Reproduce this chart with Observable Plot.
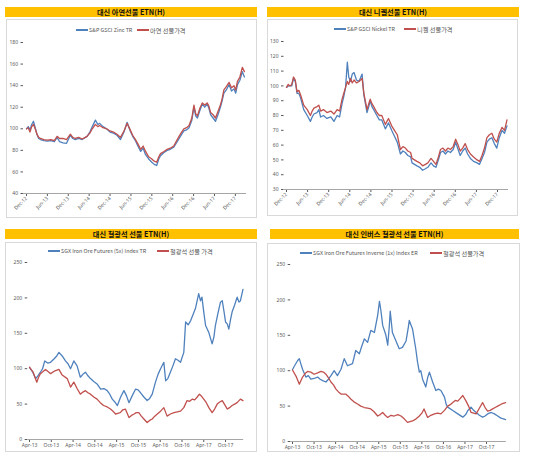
<!DOCTYPE html>
<html><head><meta charset="utf-8">
<script src="https://cdn.jsdelivr.net/npm/d3@7"></script>
<script src="https://cdn.jsdelivr.net/npm/@observablehq/plot@0.6"></script>
<style>
body{margin:0;background:#fff;font-family:"Noto Sans CJK KR","Noto Sans",sans-serif;}
#root{position:relative;width:535px;height:468px;overflow:hidden;background:#fff;}
.title{position:absolute;background:#FFC000;font-weight:bold;font-size:7.2px;line-height:10px;text-align:center;color:#111;white-space:nowrap;}
.box{position:absolute;border:1px solid #d9d9d9;box-sizing:border-box;}
.leg{position:absolute;font-size:5.4px;color:#555;white-space:nowrap;display:flex;align-items:center;height:8px;}
.leg .ko{font-size:6.2px;}
.sw{display:inline-block;width:12px;height:1.3px;margin-right:1px;}
.plot{position:absolute;}
</style>
</head><body><div id="root"></div>
<script>
// ---------- Data ----------
// Panel 1: zinc (months since Dec-2012)
const zincT = [0,0.5,1,1.5,2,2.5,3,3.5,4,5,6,7,8,8.8,9.5,10.5,11.5,12.6,13.3,14,15,16,17.4,18.2,18.9,19.8,20.5,21,22,23,24,25,26,27,28,28.9,29.8,30.5,31.3,32,32.8,33.5,34.2,35.1,36,36.7,37.4,38,38.5,39.5,40.4,41.3,42.3,43.3,44.2,45.2,46,46.7,47.5,48.1,48.6,49.1,49.8,50.5,51.2,51.9,52.4,52.9,53.6,54.3,55,55.7,56.2,56.7,57.4,58.2,58.9,59.6,60.1,60.6,61.3,62,62.6];
const zincIndex = [100,102,99,104,107,101,95,91,90,89,88.5,89,88,92,88,87,86.5,94,91,90,91,90,93,97,102,108,104,105,102,100,97,96,94,90,97,106,98,93,89,84,79,82,76,72,69,67,66,72,75,78,80,81,83,88,93,98,99,101,108,120,112,110,117,123,120,123,119,113,110,107,113,120,126,133,136,141,135,137,133,141,145,153,148];
const zincPrice = [100,101,97,102,104,100,95,92,91,90,89.5,90,89,93,91,91,90,95,92,91,92,90.5,93,96,100,104,102,103,101,100,98,97,95,92,98,105,99,94,90,86,81,84,79,74,72,70,69,74,77,79,81,82,84,90,95,100,101,103,110,122,114,112,119,124,122,124,121,115,113,110,116,122,128,136,139,143,138,140,136,144,148,157,153];
const zincTicks = [0,6,12,18,24,30,36,42,48,54,60];
const zincLabels = ["Dec-12","Jun-13","Dec-13","Jun-14","Dec-14","Jun-15","Dec-15","Jun-16","Dec-16","Jun-17","Dec-17"];

// Panel 2: nickel (months since Dec-2012)
const nickelT = [0,0.5,1,1.5,2,2.5,3,3.5,4,4.9,5.9,6.8,7.3,7.8,8.7,9.2,9.7,10.5,11.5,12.6,13.5,14.4,15.1,15.8,16.3,16.8,17.3,17.7,18.2,18.7,19.2,19.9,20.6,21.5,22,22.9,23.4,23.8,24.3,24.8,25.7,26.4,27.1,28.1,29,29.9,30.7,31.5,32.4,33.1,33.8,34.5,35.3,35.7,36.4,37.1,37.9,38.7,39.5,40.2,41.1,41.8,42.5,43.2,43.8,44.5,45.2,45.9,46.6,47.4,48.1,48.8,49.4,50.1,50.8,51.5,52.3,53.2,54.2,54.9,55.6,56.3,57,57.7,58.4,59.1,59.8,60.5,61.3,62,62.7];
const nickelIndex = [99,100,100,100,105,103,95,95,92,84,80,76,79,81,82,84,79,80,78,79,76,80,79,88,93,99,116,106,103,108,109,104,103,108,94,82,86,90,86,84,80,77,77,71,75,70,66,62,54,56,55,53,52,48,47,46,45,43,44,45,48,46,45,50,55,56,54,56,55,57,62,57,53,56,58,54,51,49,48,47,51,55,62,64,65,61,58,65,70,68,73];
const nickelPrice = [99,101,100,101,106,104,96,97,94,87,84,80,83,85,86,87,83,84,82,83,81,84,83,91,95,99,103,101,105,102,104,102,103,105,95,84,88,91,88,86,82,80,80,74,78,73,70,67,57,59,58,56,55,51,50,49,48,46,47,48,51,49,47,52,57,58,56,58,57,59,64,60,56,58,61,57,54,52,50,49,53,58,65,67,68,64,62,68,72,70,77];
const nickelTicks = [0,6,12,18,24,30,36,42,48,54,60];
const nickelLabels = ["Dec-12","Jun-13","Dec-13","Jun-14","Dec-14","Jun-15","Dec-15","Jun-16","Dec-16","Jun-17","Dec-17"];

// Panel 3: iron ore (months since Apr-2013)
const ironIndexT = [0,0.8,1.7,2.3,3,3.6,4.2,5,5.8,6.8,7.5,8.1,9,9.9,10.6,11.3,12.2,13.1,14,14.7,15.4,16.1,16.8,17.7,18.6,19.6,20.5,21.4,22.1,22.8,23.5,24.2,25.1,26,26.7,27.4,28.3,29.2,29.9,30.6,31.5,32.4,33.1,33.8,34.7,35.4,36.1,37,37.5,38.1,38.8,39.5,40.2,40.9,41.6,42.5,43,43.7,44.4,45,45.7,46.6,47.1,47.5,48,48.5,49.4,50.3,50.8,51.2,51.9,52.6,53.1,53.6,54,54.5,54.9,55.4,55.8,56.5,57.2,57.7,58.1,58.8];
const ironIndex = [102,96,86,90,95,100,111,108,109,114,118,123,118,111,107,100,111,104,88,92,95,90,86,82,78.5,71,72,69,64,57,53,48,60,69,62,52,62,71,70,66,60,55,58,64,81,92,100,109,83,86,95,104,114,112,109,123,166,162,168,176,185,206,196,201,180,161,151,135,145,161,178,194,196,180,166,163,156,170,180,190,201,194,196,212];
const ironPriceT = [0,1,2,2.5,3,4.4,5.1,5.8,7,8.1,9,10.4,11.3,12.2,13.1,14,14.7,15.4,16.1,16.8,17.7,18.6,19.5,20.4,21.4,22.3,23,23.7,24.3,25,25.7,26.4,27.4,28.1,28.8,29.4,30.1,30.8,31.5,32.4,33.1,33.8,34.5,35.2,36.1,37,37.9,38.8,39.8,40.7,41.6,42.5,43.4,44.1,44.8,45.5,46.2,46.8,47.4,48,48.7,49.4,50.3,51,51.7,52.4,53.1,53.8,54.5,55.1,55.8,56.5,57.2,58.1,58.8];
const ironPrice = [102,95,81,88,93,99,96,93,97,99,91,86,74,81,72,64,67,69,66,64,60,57,52,48,46,43,40,36,37,38,42,43,31,34,36,38,38,33,29,24,27,29,33,36,40,45,33,36,38,39,40,45,55,54,57,56,60,64,61,57,52,45,38,43,50,53,55,49,43,45,48,50,52,57,55];
const ironTicks = [0,6,12,18,24,30,36,42,48,54];
const ironLabels = ["Apr-13","Oct-13","Apr-14","Oct-14","Apr-15","Oct-15","Apr-16","Oct-16","Apr-17","Oct-17"];

// Panel 4: inverse iron ore (months since Apr-2013)
const invIndexT = [0,0.7,1.4,1.9,2.3,2.8,3.7,4.4,5.1,6,7,7.7,8.4,9.3,10,10.7,11.6,12.5,13.5,14.4,15.3,16.7,17.6,18.6,19.3,20,20.9,21.8,22.8,23.7,24.2,24.6,25.1,26,26.5,26.9,27.2,27.8,28.8,29.7,30.6,31.6,32.2,32.5,33.4,34.3,34.8,35.3,35.7,36.2,37.1,37.6,38.1,39,39.9,40.6,41.3,42.3,42.8,43.2,44.6,46,47.4,48.2,48.8,49.7,50.4,51.1,52,52.9,53.6,54.3,55.3,56.2,57.1,58,58.7,59.3];
const invIndex = [101.7,108,114,117,110,102,91,93,88,89,91,88,86,84,88,93,100,93,102,117,107,110,128.5,124,135,145,140,157,154,178,198,185,164,150,136,160,184,154,142,131,133,142,160,171,159,131,112,98,100,88,77,90,98,84,72,74,72,62.6,52,48.5,43.8,39,34.4,38,43.8,48.5,44,41,37,34.4,36,39,41,39,36,33,32,31];
const invPriceT = [0,1,1.9,2.8,3.5,4.2,5.1,6,7,7.9,8.6,9.3,10,10.7,11.4,12.1,12.8,13.5,14.8,15.5,16.2,17.1,18.1,19,20,20.9,21.8,22.7,23.7,24.4,25.1,25.8,26.5,27.4,28.3,29.3,30.2,31.1,32,32.7,33.4,34.4,35.3,36,36.6,37.6,38.5,39.5,40.4,41.3,42.3,43.2,43.9,44.6,45.3,46,46.7,47.4,48.3,49,49.7,50.4,51.1,52,52.9,53.6,54.3,55,55.7,56.4,57.1,58.2,59.3];
const invPrice = [101,92,81,91,96,99,98,95,97,99,98,95,90,84,80,74,70,67,67,64,60,56,53,50,48,47,46,42,36,38,41,37,34,37,36,38,36,32,27,28,29,32,36,40,46,34,37,39,40,39,44,50,52,55,58,57,61,65,57,50,41,40,39,47,55,48,43,44,46,48,50,53,55];
const invTicks = [0,6,12,18,24,30,36,42,48,54];
const invLabels = ["Apr-13","Oct-13","Apr-14","Oct-14","Apr-15","Oct-15","Apr-16","Oct-16","Apr-17","Oct-17"];

const BLUE = "#4F81BD", RED = "#C0504D";
const zip = (t, v) => t.map((d, i) => ({t: d, v: v[i]}));

const panels = [
  {title:"대신 아연선물 ETN(H)", bar:[5,7,252,10], box:[6,19,251,199],
   m:[23,11,25,17], xd:[-0.86,63.2], yd:[40,180], yt:[40,60,80,100,120,140,160,180],
   xt:zincTicks, xl:zincLabels, rot:-45,
   blue:zip(zincT,zincIndex), red:zip(zincT,zincPrice),
   leg:[[76,"S&P GSCI Zinc TR",BLUE,false],[137,"아연 선물가격",RED,true]], legY:26},
  {title:"대신 니켈선물 ETN(H)", bar:[267,7,252,10], box:[267,19,251,197],
   m:[22,10,27,16.5], xd:[-0.71,63.13], yd:[30,130], yt:[30,40,50,60,70,80,90,100,110,120,130],
   xt:nickelTicks, xl:nickelLabels, rot:-45,
   blue:zip(nickelT,nickelIndex), red:zip(nickelT,nickelPrice),
   leg:[[334,"S&P GSCI Nickel TR",BLUE,false],[404,"니켈 선물가격",RED,true]], legY:25},
  {title:"대신 철광석 선물 ETN(H)", bar:[5,229,252,10], box:[5,242,252,210],
   m:[20,13.8,13,22.2], xd:[-0.5,59], yd:[0,250], yt:[0,50,100,150,200,250],
   xt:ironTicks, xl:ironLabels, rot:0,
   blue:zip(ironIndexT,ironIndex), red:zip(ironPriceT,ironPrice),
   leg:[[48,"SGX Iron Ore Futures (5x) Index TR",BLUE,false],[157,"철광석 선물 가격",RED,true]], legY:247},
  {title:"대신 인버스 철광석 선물 ETN(H)", bar:[270,229,249,10], box:[267,243,253,209],
   m:[21,14.2,11,23.2], xd:[-0.5,59.5], yd:[0,250], yt:[0,50,100,150,200,250],
   xt:invTicks, xl:invLabels, rot:0,
   blue:zip(invIndexT,invIndex), red:zip(invPriceT,invPrice),
   leg:[[300,"SGX Iron Ore Futures Inverse (1x) Index ER",BLUE,false],[430,"철광석 선물가격",RED,true]], legY:249}
];

const root = document.getElementById("root");
function place(el, l, t, w, h) {
  el.style.left = l + "px"; el.style.top = t + "px";
  if (w != null) el.style.width = w + "px";
  if (h != null) el.style.height = h + "px";
}

for (const p of panels) {
  const bar = document.createElement("div");
  bar.className = "title"; bar.textContent = p.title;
  place(bar, ...p.bar); root.appendChild(bar);

  const box = document.createElement("div");
  box.className = "box"; place(box, ...p.box); root.appendChild(box);

  const [bl, bt, bw, bh] = p.box;
  const svg = Plot.plot({
    width: bw, height: bh,
    marginTop: p.m[0], marginRight: p.m[1], marginBottom: p.m[2], marginLeft: p.m[3],
    style: {background: "transparent", fontSize: "5px", color: "#595959",
            fontFamily: "'Noto Sans','Noto Sans CJK KR',sans-serif", overflow: "visible"},
    x: {domain: p.xd, ticks: p.xt, tickFormat: (d) => p.xl[p.xt.indexOf(d)],
        tickSize: 3, tickPadding: 1, tickRotate: p.rot, label: null},
    y: {domain: p.yd, ticks: p.yt, tickSize: 2.5, tickPadding: 3, label: null},
    marks: [
      Plot.ruleY([p.yd[0]], {stroke: "#a6a6a6", strokeWidth: 1}),
      Plot.line(p.blue, {x: "t", y: "v", stroke: BLUE, strokeWidth: 1.3, strokeLinejoin: "round"}),
      Plot.line(p.red, {x: "t", y: "v", stroke: RED, strokeWidth: 1.3, strokeLinejoin: "round"})
    ]
  });
  svg.classList.add("plot");
  place(svg, bl, bt);
  root.appendChild(svg);

  for (const [x, label, color, ko] of p.leg) {
    const it = document.createElement("div");
    it.className = "leg";
    const sw = document.createElement("span");
    sw.className = "sw"; sw.style.background = color;
    const tx = document.createElement("span");
    tx.textContent = label;
    if (ko) tx.className = "ko";
    it.appendChild(sw); it.appendChild(tx);
    place(it, x, p.legY);
    root.appendChild(it);
  }
}
</script>
</body></html>
